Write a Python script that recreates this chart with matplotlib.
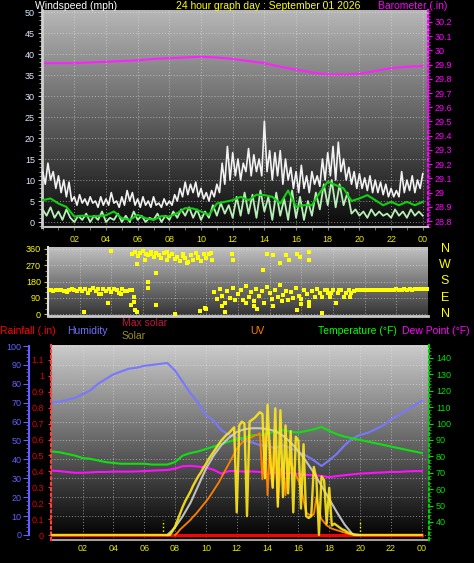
import numpy as np
import matplotlib
matplotlib.use("Agg")
import matplotlib.pyplot as plt
from matplotlib.ticker import MultipleLocator, FuncFormatter, FixedLocator

plt.rcParams['font.family'] = ['Liberation Sans', 'DejaVu Sans']

# ---------------- data ----------------
hour_ticks = [2, 4, 6, 8, 10, 12, 14, 16, 18, 20, 22, 24]
hour_labels = ['02', '04', '06', '08', '10', '12', '14', '16', '18', '20', '22', '00']

# wind gust (mph), 10-minute samples 00:00 .. 24:00
gust = [12, 9, 14, 10, 12, 8,
        11, 7, 10, 6, 9.5, 5,
        6, 4, 6.5, 4.5, 5.5, 4,
        6, 4.5, 5, 3.5, 6, 4,
        5.5, 4, 7, 4.5, 5, 3.5,
        6, 4, 7.5, 5, 7, 4,
        5.5, 3.5, 6, 4, 5, 3.5,
        6, 4, 4.5, 3.5, 5.5, 4,
        5, 4, 6.5, 5, 8, 6,
        9.5, 6.5, 9, 7, 9.5, 6,
        8, 5.5, 7, 5, 7.5, 6,
        9, 7, 14, 9, 18, 10,
        16.5, 11, 15, 10, 14, 12,
        17.5, 11, 16, 12, 15, 11,
        24, 12, 17, 10, 16.5, 11,
        17, 9, 15, 10, 13, 8,
        12, 7, 13.5, 8, 11, 7,
        12, 9, 11, 8.5, 15, 10,
        16.5, 11, 18, 10, 19, 12,
        15, 10, 13, 9, 12, 8,
        11.5, 8, 10.5, 7.5, 11, 7,
        10, 7, 9.5, 6.5, 9, 6,
        8, 6, 7.5, 6, 12, 7,
        10, 7.5, 11, 7, 10, 8,
        11.5]

# wind speed (mph), 15-minute samples
speed = [3, 1.5, 3.5, 1, 2.5, 0.5, 3, 1,
         0, 1.5, 0.5, 2, 0, 1.5, 0.5, 2.5,
         0, 1, 0.5, 2, 0, 1.5, 0, 2.5,
         0.5, 1.5, 0, 1, 0.5, 2, 0, 1.5,
         0.5, 2.5, 1, 3, 1.5, 3.5, 1, 3,
         0.5, 2.5, 1, 4, 1.5, 4.5, 2, 4,
         1, 6, 1.5, 7, 2, 6.5, 1, 7.5,
         2.5, 6, 0.5, 7, 1.5, 5.5, 0.5, 7.5,
         1, 6, 0.5, 5, 1.5, 7, 3, 9,
         4, 10, 3.5, 9, 4, 7, 2, 3,
         1.5, 2.5, 1, 3, 1.5, 2.5, 1.5, 2,
         1, 3, 1.5, 2.5, 1, 3, 1.5, 2.5,
         1.5]

# average wind speed (mph), 30-minute samples
avg_speed = [5.2, 5.6, 4.4, 3.6, 1.3, 1.5, 1.3, 1.4, 1.6, 2.5, 0.9, 0.5,
             1.7, 0.9, 0.5, 1.4, 1.3, 2.1, 3.3, 3.2, 2.5, 1.7, 4.4, 4.8,
             5.2, 6.0, 5.2, 6.5, 6.4, 6.0, 4.4, 7.5, 3.6, 4.0, 4.0, 7.0,
             9.6, 8.8, 8.0, 5.0, 5.6, 6.4, 5.2, 4.0, 4.8, 4.0, 4.8, 4.0,
             4.8]

# barometer (in), hourly
baro = [29.91, 29.91, 29.91, 29.915, 29.92, 29.925, 29.93, 29.94, 29.945,
        29.95, 29.955, 29.95, 29.94, 29.925, 29.91, 29.885, 29.865, 29.845,
        29.83, 29.83, 29.835, 29.855, 29.875, 29.885, 29.89]

# wind direction (deg), 10-minute samples
wind_dir = [132, 134, 130, 133, 135, 131,
            130, 128, 134, 136, 132, 130,
            138, 126, 140, 118, 134, 142,
            128, 136, 112, 140, 130, 136,
            124, 138, 132, 116, 140, 130,
            128, 134, 330, 345, 320, 340,
            350, 335, 325, 345, 315, 338,
            328, 310, 340, 300, 322, 335,
            305, 318, 295, 330, 310, 290,
            325, 300, 340, 315, 295, 330,
            310, 335, 300, 120, 85, 140,
            100, 60, 130, 90, 145, 75,
            110, 135, 80, 155, 95, 120,
            70, 140, 100, 125, 60, 150,
            115, 85, 135, 95, 160, 105,
            130, 75, 120, 90, 145, 100,
            85, 135, 110, 65, 125, 95,
            140, 115, 92, 132, 114, 92,
            132, 63, 114, 132, 92, 114,
            132, 114, 130, 132, 131, 133,
            132, 134, 132, 133, 131, 135,
            133, 134, 132, 135, 134, 133,
            136, 134, 135, 137, 135, 136,
            134, 137, 138, 136, 138, 137,
            138]
# additional direction readings (hour, deg)
dir_extra_h = [4.0, 5.6, 5.3, 5.4, 5.45, 5.25, 6.3, 6.3, 6.8, 2.3, 3.8, 5.5, 5.6,
               6.8, 8.0, 9.6, 9.9, 10.0, 11.0, 11.2, 13.2, 14.2, 15.7, 16.5, 17.3,
               11.6, 11.7, 13.6, 13.8, 14.2, 14.65, 15.0, 15.2, 15.7, 15.9, 16.5,
               16.5, 2.5, 3.2, 4.6, 1.2, 6.5, 7.5, 8.5, 9.5, 10.3, 6.1, 8.8, 17.6,
               17.9, 18.4, 18.8, 19.1, 12.5, 13.0, 14.8, 16.0]
dir_extra_d = [349, 276, 132, 96, 68, 50, 177, 143, 225, 13, 60, 20, 10,
               50, 2, 15, 35, 25, 45, 10, 30, 45, 20, 45, 5,
               335, 298, 243, 335, 325, 280, 325, 298, 335, 317, 345,
               298, 115, 110, 112, 120, 330, 345, 320, 310, 340, 300, 285, 132,
               114, 132, 114, 92, 60, 45, 70, 55]

# humidity (%), 30-minute samples
humidity = [70, 70.5, 71.5, 72.5, 74.5, 76.5, 80, 82.5, 85, 86.5, 88, 88.5,
            89.5, 90, 90.5, 91, 87, 81, 75, 70, 63.5, 60.5, 55.5, 53,
            51.5, 50, 49, 47.5, 47, 46, 47.5, 46, 44, 42, 39.5, 36.5,
            39.5, 43, 47.5, 51, 53, 54, 56, 58, 61, 63.5, 66, 68.5, 71]

# temperature (F), 30-minute samples
temperature = [83, 82.5, 81.5, 80.5, 79, 78.5, 77.5, 76.5, 76, 75.5, 75.5, 75.5,
               75.5, 75, 75, 75, 76.5, 80.5, 82, 83, 84.5, 86, 87.5, 89,
               90.5, 91.5, 93, 93, 94, 95, 96, 95, 94.5, 95.5, 96.5, 98,
               95.5, 93.5, 92, 91, 90, 89, 88, 87, 86, 85, 84, 83, 82]

# dew point (F), 30-minute samples
dew_point = [71.3, 71, 70.5, 70, 70, 70.2, 70.5, 70.5, 70.7, 70.7, 70.7, 70.8,
             71, 71.3, 71.5, 71.7, 72.5, 74, 74.2, 73.8, 73.2, 71.8, 69.5, 71,
             71, 70.7, 70.8, 70.5, 69.5, 70, 69.6, 69.8, 69.3, 68.8, 68.5, 68,
             67.3, 68, 68.5, 69, 69.5, 69.7, 70, 70.2, 70.5, 70.5, 70.8, 71, 71]

# rainfall (in)
rain_hours = [0, 24]
rain = [0, 0]

# solar radiation (W/m2), 10-minute samples 07:30 .. 20:00
solar = [0, 0, 24, 54, 96, 138, 180, 216, 246, 276, 312, 342, 372, 396, 426,
         450, 480, 504, 528, 552, 576, 600, 618, 636, 648, 666, 684, 144, 696,
         720, 708, 120, 720, 732, 744, 762, 780, 768, 360, 828, 480, 300, 804,
         180, 792, 240, 696, 264, 660, 144, 624, 600, 168, 576, 120, 108, 120,
         432, 360, 0, 372, 348, 72, 300, 60, 72, 60, 48, 36, 30, 18, 12, 6, 0,
         0, 0]
solar_start, solar_end = 7.5, 20.0

# theoretical max solar (W/m2), 30-minute samples 07:30 .. 20:00
max_solar = [0, 48, 120, 204, 312, 420, 504, 570, 618, 654, 672, 678, 678,
             672, 660, 630, 588, 534, 468, 396, 312, 228, 144, 66, 6, 0]

# UV index, 10-minute samples 08:00 .. 20:00
uv = [0, 0.15, 0.35, 0.5, 0.65, 0.8,
      0.95, 1.15, 1.3, 1.5, 1.7, 1.9,
      2.1, 2.3, 2.55, 2.8, 3.05, 3.3,
      3.6, 3.9, 4.2, 4.5, 4.8, 5.1,
      5.4, 5.6, 5.8, 5.95, 6.05, 6.1,
      6.15, 6.25, 6.3, 6.4, 3.5, 6.3,
      2.5, 5.8, 3.0, 5.5, 2.0, 4.0,
      4.6, 2.5, 4.8, 4.5, 4.2, 3.8,
      3.4, 3.0, 2.2, 1.4, 1.3, 1.2,
      1.3, 2.4, 1.5, 1.0, 0.8, 0.6,
      0.5, 0.4, 0.35, 0.3, 0.25, 0.2,
      0.15, 0.1, 0.05, 0.02, 0, 0,
      0]
uv_start, uv_end = 8.0, 20.0

sunrise, sunset = 7.2, 20.0

# ---------------- figure ----------------
W, H = 474, 563
fig = plt.figure(figsize=(W / 100, H / 100), dpi=100, facecolor='black')


def rect(l, t, r, b):
    return [l / W, 1 - b / H, (r - l) / W, (b - t) / H]


def background(r, top, bottom):
    bg = fig.add_axes(r, zorder=0)
    g = np.linspace(top, bottom, 256).reshape(-1, 1)
    bg.imshow(g, cmap='gray', vmin=0, vmax=1, aspect='auto',
              interpolation='bilinear')
    bg.axis('off')
    return bg


GRID = dict(color='#e8e8e8', linestyle=(0, (1, 2)), linewidth=0.7, alpha=0.55)
FS = 6.5

# ---------- top panel: wind speed + barometer ----------
r1 = rect(42, 10, 428, 227)
background(r1, 0.72, 0.04)
ax1 = fig.add_axes(r1, zorder=2)
ax1.set_facecolor('none')
ax1.set_xlim(-0.04, 24.33)
ax1.set_ylim(-1.19, 50.48)
gust_h = np.linspace(0, 24, len(gust))
speed_h = np.linspace(0, 24, len(speed))
avg_h = np.linspace(0, 24, len(avg_speed))
ax1.plot(gust_h, gust, color='#f2f2f2', lw=1.2, zorder=3)
ax1.plot(speed_h, speed, color='#b8f0b8', lw=1.3, zorder=4)
ax1.plot(avg_h, avg_speed, color='#10d010', lw=1.5, zorder=5)
ax1.set_xticks(hour_ticks)
ax1.set_xticklabels(hour_labels, color='#e8e800', fontsize=FS)
ax1.xaxis.set_minor_locator(MultipleLocator(1))
ax1.tick_params(axis='x', which='both', length=2, color='#808080', pad=4)
ax1.yaxis.set_major_locator(MultipleLocator(5))
ax1.yaxis.set_minor_locator(MultipleLocator(1))
ax1.yaxis.set_major_formatter(FuncFormatter(lambda v, p: f'{v:g}'))
ax1.tick_params(axis='y', which='major', length=3, color='#c8c8c8',
                labelcolor='#dce8ff', labelsize=FS, pad=2)
ax1.tick_params(axis='y', which='minor', length=2, color='#b0b0b0')
ax1.grid(True, which='major', **GRID)
for s in ['top', 'right']:
    ax1.spines[s].set_visible(False)
ax1.spines['left'].set_color('#d0d0d0')
ax1.spines['left'].set_linewidth(2)
ax1.spines['bottom'].set_color('#c0c0c0')
ax1.spines['bottom'].set_linewidth(1.5)

ax1b = ax1.twinx()
ax1b.set_zorder(1)
ax1b.set_ylim(28.758, 30.284)
baro_h = np.linspace(0, 24, len(baro))
ax1b.plot(baro_h, baro, color='#ff20ff', lw=1.5)
ax1b.yaxis.set_major_locator(MultipleLocator(0.1))
ax1b.yaxis.set_minor_locator(MultipleLocator(0.02))
ax1b.yaxis.set_major_formatter(FuncFormatter(lambda v, p: f'{round(v, 1):g}'))
ax1b.tick_params(axis='y', which='major', length=3, color='#ff00ff',
                 labelcolor='#ff00ff', labelsize=FS, pad=2)
ax1b.tick_params(axis='y', which='minor', length=1.5, color='#ff00ff')
for s in ['top', 'left', 'bottom']:
    ax1b.spines[s].set_visible(False)
ax1b.spines['right'].set_color('#ff00ff')
ax1b.spines['right'].set_linestyle(':')
ax1b.spines['right'].set_linewidth(1.5)

# ---------- middle panel: wind direction ----------
r2 = rect(48, 247, 428, 316)
background(r2, 0.76, 0.2)
ax2 = fig.add_axes(r2, zorder=2)
ax2.set_facecolor('none')
ax2.set_xlim(0, 24)
ax2.set_ylim(-11, 371)
dir_h = np.linspace(0, 24, len(wind_dir))
ax2.scatter(dir_h, wind_dir, s=5, marker='s', color='#ffff00', linewidths=0, zorder=3)
ax2.scatter(dir_extra_h, dir_extra_d, s=5, marker='s', color='#ffff00', linewidths=0, zorder=3)
ax2.set_xticks(hour_ticks)
ax2.tick_params(axis='x', length=0, labelbottom=False)
ax2.set_yticks([0, 90, 180, 270, 360])
ax2.yaxis.set_minor_locator(MultipleLocator(30))
ax2.tick_params(axis='y', which='major', length=3, color='#d0c040',
                labelcolor='#ffff00', labelsize=FS, pad=2)
ax2.tick_params(axis='y', which='minor', length=2, color='#c0b030')
ax2.grid(True, which='major', **GRID)
for s in ['top', 'right']:
    ax2.spines[s].set_visible(False)
ax2.spines['left'].set_color('#e0e0e0')
ax2.spines['left'].set_linewidth(1.5)
ax2.spines['bottom'].set_color('#c8c8c8')
ax2.spines['bottom'].set_linewidth(2)

for lab, d in zip(['N', 'W', 'S', 'E', 'N'], [360, 270, 180, 90, 0]):
    y = 314 - d / 90 * 16.3
    fig.text(445 / W, 1 - y / H, lab, color='#ffff00', fontsize=9,
             ha='center', va='center')

# ---------- bottom panel ----------
r3 = rect(51, 345, 429, 540)
background(r3, 0.80, 0.0)
ax3 = fig.add_axes(r3, zorder=2)
ax3.set_facecolor('none')
ax3.set_xlim(-0.045, 24.47)
ax3.set_ylim(-2.65, 100.53)
hum_h = np.linspace(0, 24, len(humidity))
ax3.plot(hum_h, humidity, color='#7878ff', lw=1.5, zorder=3)
ax3.plot([sunrise, sunrise], [0, 8], color='#ffff00', lw=1, ls=':', zorder=3)
ax3.plot([sunset, sunset], [0, 8], color='#ffff00', lw=1, ls=':', zorder=3)
ax3.set_xticks(hour_ticks)
ax3.set_xticklabels(hour_labels, color='#e8e800', fontsize=FS)
ax3.tick_params(axis='x', length=0, pad=3)
ax3.yaxis.set_major_locator(MultipleLocator(10))
ax3.yaxis.set_minor_locator(MultipleLocator(2))
ax3.yaxis.set_major_formatter(FuncFormatter(lambda v, p: f'{v:g}' if v >= 0 else ''))
ax3.tick_params(axis='y', which='major', length=4, color='#6060ff',
                labelcolor='#6060ff', labelsize=FS, pad=1.5)
ax3.tick_params(axis='y', which='minor', length=2, color='#6060ff')
ax3.grid(True, which='major', **GRID)
ax3.spines['left'].set_position(('outward', 22 * 0.72))
ax3.spines['left'].set_bounds(0, 100)
ax3.spines['left'].set_color('#6060ff')
ax3.spines['left'].set_linewidth(1.5)
for s in ['top', 'right']:
    ax3.spines[s].set_visible(False)
ax3.spines['bottom'].set_color('#a0a0a0')
ax3.spines['bottom'].set_linewidth(1.5)

# temperature / dew point axis (right)
ax3t = ax3.twinx()
ax3t.set_zorder(3)
ax3t.set_ylim(29.0, 147.9)
temp_h = np.linspace(0, 24, len(temperature))
ax3t.plot(temp_h, temperature, color='#10e010', lw=1.5)
ax3t.plot(temp_h, dew_point, color='#ff10ff', lw=1.5)
ax3t.yaxis.set_major_locator(FixedLocator(list(range(40, 150, 10))))
ax3t.yaxis.set_minor_locator(FixedLocator(list(range(30, 148, 2))))
ax3t.tick_params(axis='y', which='major', length=3, color='#00e000',
                 labelcolor='#00e000', labelsize=FS, pad=2)
ax3t.tick_params(axis='y', which='minor', length=1.5, color='#00c000')
for s in ['top', 'left', 'bottom']:
    ax3t.spines[s].set_visible(False)
ax3t.spines['right'].set_color('#00d000')
ax3t.spines['right'].set_linestyle(':')
ax3t.spines['right'].set_linewidth(1.5)

# rainfall axis (left, inner)
ax3r = ax3.twinx()
ax3r.set_zorder(4)
ax3r.set_ylim(-0.0314, 1.194)
ax3r.plot(rain_hours, rain, color='#ff0000', lw=2.2)
ax3r.yaxis.set_ticks_position('left')
ax3r.yaxis.set_major_locator(FixedLocator([i / 10 for i in range(12)]))
ax3r.yaxis.set_major_formatter(FuncFormatter(lambda v, p: f'{round(v, 1):g}'))
ax3r.tick_params(axis='y', which='major', length=2, color='#ff3030',
                 labelcolor='#e00000', labelsize=FS, pad=3)
for s in ['top', 'right', 'bottom']:
    ax3r.spines[s].set_visible(False)
ax3r.spines['left'].set_visible(True)
ax3r.spines['left'].set_color('#ff4040')
ax3r.spines['left'].set_linestyle(':')
ax3r.spines['left'].set_linewidth(1.5)

# UV axis (hidden)
ax3u = ax3.twinx()
ax3u.set_zorder(5)
ax3u.set_ylim(-0.314, 11.94)
uv_h = np.linspace(uv_start, uv_end, len(uv))
ax3u.plot(uv_h, uv, color='#ff8000', lw=1.3)
ax3u.axis('off')

# solar axis (hidden)
ax3s = ax3.twinx()
ax3s.set_zorder(6)
ax3s.set_ylim(-31.8, 1206.4)
ms_h = np.linspace(solar_start, solar_end, len(max_solar))
ax3s.plot(ms_h, max_solar, color='#d0d0d0', lw=1.5, alpha=0.9)
sol_h = np.concatenate([[0.0], np.linspace(solar_start, solar_end, len(solar)), [24.0]])
sol_v = np.concatenate([[0.0], solar, [0.0]])
ax3s.plot(sol_h, sol_v, color='#ffe81a', lw=1.7, alpha=0.9)
ax3s.axis('off')

# ---------- texts ----------
def ftext(x, y, s, c, **kw):
    fig.text(x / W, 1 - y / H, s, color=c, fontsize=7.5, va='center', ha='left', **kw)

ftext(35, 6, 'Windspeed (mph)', '#ffffff')
ftext(176, 6, '24 hour graph day : September 01 2026', '#ffff00')
ftext(378, 6, 'Barometer (.in)', '#ff00ff')

ftext(0, 331, 'Rainfall (.in)', '#ff0000')
ftext(67, 331, 'Humidity', '#7070ff')
ftext(122, 323, 'Max solar', '#c01840')
ftext(122, 336, 'Solar', '#989020')
ftext(250, 331, 'UV', '#ff8000')
ftext(318, 331, 'Temperature (\u00b0F)', '#00ff00')
ftext(402, 331, 'Dew Point (\u00b0F)', '#ff00ff')

fig.savefig('out.png', dpi=100, facecolor='black')
